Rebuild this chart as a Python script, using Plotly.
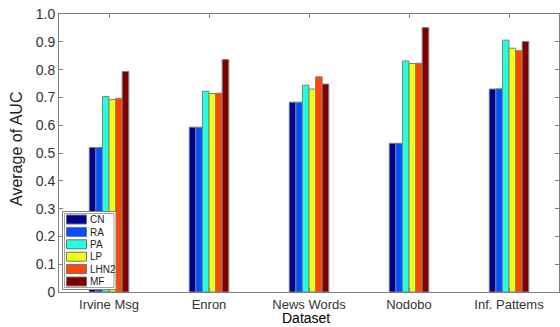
import plotly.graph_objects as go

datasets = ["Irvine Msg", "Enron", "News Words", "Nodobo", "Inf. Pattems"]
methods = ["CN", "RA", "PA", "LP", "LHN2", "MF"]
cn = [0.520, 0.593, 0.683, 0.535, 0.730]
ra = [0.520, 0.593, 0.683, 0.535, 0.731]
pa = [0.703, 0.722, 0.744, 0.831, 0.906]
lp = [0.692, 0.714, 0.730, 0.822, 0.877]
lhn2 = [0.697, 0.715, 0.774, 0.823, 0.868]
mf = [0.793, 0.836, 0.748, 0.951, 0.901]
series = [cn, ra, pa, lp, lhn2, mf]
colors = ["#00008F", "#0050FF", "#20FFDF", "#EFFF10", "#FF4600", "#800000"]
yticks = [0, 0.1, 0.2, 0.3, 0.4, 0.5, 0.6, 0.7, 0.8, 0.9, 1.0]
ytick_text = ["0", "0.1", "0.2", "0.3", "0.4", "0.5", "0.6", "0.7", "0.8", "0.9", "1.0"]

W, H = 560, 327
L, R, T, B = 59, 559, 14, 292
FONT = "Liberation Sans, Arial, sans-serif"

fig = go.Figure()
xpos = list(range(1, len(datasets) + 1))
for name, vals, col in zip(methods, series, colors):
    fig.add_trace(go.Bar(x=xpos, y=vals, name=name, marker=dict(color=col, line=dict(color="#808080", width=1)),
                         showlegend=False))

def px(x):
    return (x - L) / (R - L)

def py(y):
    return (B - y) / (B - T)

shapes = []
annotations = []
# legend box (double border)
shapes.append(dict(type="rect", xref="paper", yref="paper", x0=px(62.5), x1=px(116), y0=py(289.5), y1=py(211.5),
                   line=dict(color="#808080", width=1), fillcolor="white", layer="above"))
shapes.append(dict(type="rect", xref="paper", yref="paper", x0=px(64.5), x1=px(114), y0=py(287.5), y1=py(213.5),
                   line=dict(color="#A0A0A0", width=1), fillcolor="white", layer="above"))
for i, (name, col) in enumerate(zip(methods, colors)):
    top = 215 + i * 12.4
    shapes.append(dict(type="rect", xref="paper", yref="paper", x0=px(66.5), x1=px(86.5), y0=py(top + 9), y1=py(top),
                       line=dict(color="#707070", width=1), fillcolor=col, layer="above"))
    annotations.append(dict(xref="paper", yref="paper", x=px(87.5), y=py(top + 4.7), text=name, showarrow=False,
                            xanchor="left", yanchor="middle", font=dict(family=FONT, size=10, color="#222")))

# axis titles
annotations.append(dict(xref="paper", yref="paper", x=px(306), y=py(327), text="Dataset", showarrow=False,
                        xanchor="center", yanchor="bottom", borderpad=0,
                        font=dict(family=FONT, size=14, color="black")))
annotations.append(dict(xref="paper", yref="paper", x=px(16), y=py(149), text="Average of AUC", showarrow=False,
                        textangle=-90, xanchor="center", yanchor="middle", font=dict(family=FONT, size=16, color="#222")))

fig.update_layout(
    width=W, height=H,
    margin=dict(l=L, r=W - R, t=T, b=H - B, autoexpand=False),
    paper_bgcolor="white", plot_bgcolor="white",
    barmode="group", bargap=0.605, bargroupgap=0,
    font=dict(family=FONT, size=14, color="#333"),
    shapes=shapes, annotations=annotations,
    xaxis=dict(range=[0.5, 5.5], tickvals=xpos, ticktext=datasets, showgrid=False, zeroline=False, automargin=False,
               showline=True, linecolor="#808080", linewidth=1, mirror="ticks", ticks="inside", ticklen=4,
               tickcolor="#808080", tickfont=dict(family=FONT, size=13, color="#333")),
    yaxis=dict(range=[0, 1.0], tickvals=yticks, ticktext=ytick_text, showgrid=False, zeroline=False, automargin=False,
               showline=True, linecolor="#808080", linewidth=1, mirror="ticks", ticks="inside", ticklen=4,
               tickcolor="#808080", tickfont=dict(family=FONT, size=14, color="#333")),
)

fig.write_html("out.html", config={"displayModeBar": False},
               post_script="document.body.style.margin='0';document.body.style.overflow='hidden';")
